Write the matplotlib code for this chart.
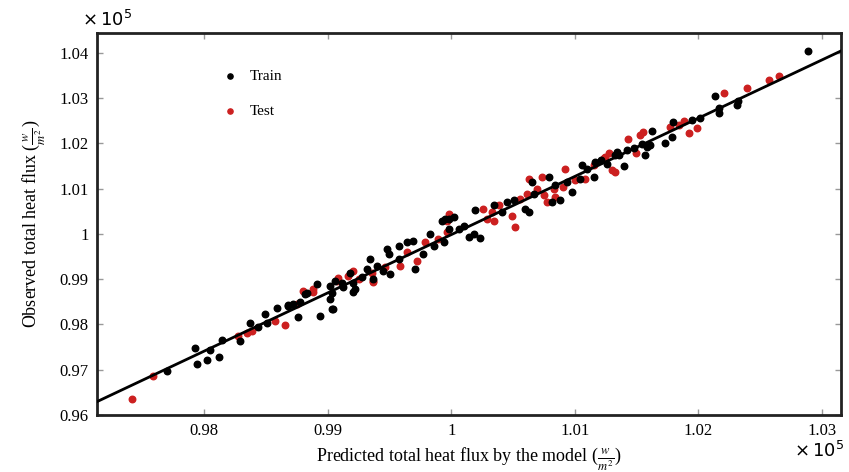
import matplotlib.pyplot as plt
from matplotlib.ticker import FuncFormatter

plt.rcParams['font.family'] = ['Liberation Serif', 'DejaVu Serif']
plt.rcParams['mathtext.fontset'] = 'stix'

# values in units of 1e5 W/m^2
train_pred = [0.97698, 0.97927, 0.97946, 0.98022, 0.98049, 0.98124, 0.98143, 0.98292,
              0.98372, 0.98440, 0.98494, 0.98508, 0.98589, 0.98683, 0.98761, 0.98939,
              0.99045, 0.98832, 0.99020, 0.99207, 0.99126, 0.98721, 0.98777, 0.98680,
              0.98818, 0.98912, 0.99034, 0.99034, 0.99061, 0.99115, 0.99182, 0.99209,
              0.99223, 0.99277, 0.99318, 0.99345, 0.99371, 0.99398, 0.99452, 0.99479,
              0.99493, 0.99506, 0.99574, 0.99574, 0.99641, 0.99695, 0.99709, 0.99776,
              0.99830, 0.99857, 0.99925, 0.99938, 0.99979, 0.99020, 0.99951, 1.00019,
              0.99979, 1.00060, 1.00100, 1.00141, 1.00181, 1.00235, 1.00194, 1.00343,
              1.00410, 1.00451, 1.00505, 1.00600, 1.00627, 1.00667, 1.00654, 1.00789,
              1.00815, 1.00883, 1.00842, 1.00977, 1.00936, 1.01045, 1.01058, 1.01099,
              1.01152, 1.01166, 1.01260, 1.01328, 1.01341, 1.01210, 1.01355, 1.01395,
              1.01423, 1.01476, 1.01544, 1.01571, 1.01585, 1.01611, 1.01625, 1.01733,
              1.01787, 1.01795, 1.01949, 1.02016, 1.02165, 1.02165, 1.02138, 1.02313,
              1.02318, 1.02886]
train_obs = [0.96963, 0.97489, 0.97133, 0.97222, 0.97444, 0.97282, 0.97651, 0.97630,
             0.98037, 0.97948, 0.98222, 0.98037, 0.98370, 0.98407, 0.98156, 0.98185,
             0.98333, 0.98704, 0.98852, 0.98711, 0.98822, 0.98444, 0.98489, 0.98422,
             0.98667, 0.98889, 0.98704, 0.98333, 0.98963, 0.98926, 0.99133, 0.98926,
             0.98793, 0.99059, 0.99222, 0.99444, 0.99000, 0.99296, 0.99185, 0.99667,
             0.99556, 0.99111, 0.99444, 0.99741, 0.99815, 0.99852, 0.99222, 0.99556,
             1.00000, 0.99741, 1.00296, 0.99815, 1.00333, 0.98556, 1.00333, 1.00370,
             1.00111, 1.00111, 1.00185, 0.99926, 1.00000, 0.99904, 1.00519, 1.00630,
             1.00481, 1.00704, 1.00741, 1.00556, 1.00481, 1.00889, 1.01148, 1.01259,
             1.00704, 1.00741, 1.01074, 1.00926, 1.01148, 1.01222, 1.01519, 1.01444,
             1.01259, 1.01593, 1.01556, 1.01741, 1.01815, 1.01630, 1.01741, 1.01496,
             1.01852, 1.01889, 1.01978, 1.01741, 1.01926, 1.01963, 1.02274, 1.02000,
             1.02148, 1.02467, 1.02519, 1.02556, 1.02667, 1.02778, 1.03037, 1.02852,
             1.02941, 1.04052]

test_pred = [0.97415, 0.97589, 0.98278, 0.98346, 0.98386, 0.98575, 0.98656, 0.98884,
             0.99075, 0.99368, 0.98751, 0.98804, 0.98885, 0.99088, 0.99169, 0.99209,
             0.99250, 0.99358, 0.99371, 0.99466, 0.99587, 0.99641, 0.99722, 0.99790,
             0.99897, 0.99965, 0.99979, 0.99966, 1.00261, 1.00289, 1.00343, 1.00329,
             1.00383, 1.00491, 1.00518, 1.00559, 1.00613, 1.00694, 1.00627, 1.00735,
             1.00748, 1.00775, 1.00842, 1.00829, 1.00909, 1.00923, 1.01004, 1.01085,
             1.01152, 1.01233, 1.01301, 1.01274, 1.01247, 1.01328, 1.01428, 1.01498,
             1.01525, 1.01552, 1.01773, 1.01841, 1.01881, 1.01922, 1.01990, 1.02211,
             1.02394, 1.02570, 1.02650]
test_obs = [0.96356, 0.96867, 0.97741, 0.97815, 0.97852, 0.98074, 0.97978, 0.98711,
            0.98963, 0.98933, 0.98444, 0.98741, 0.98778, 0.99037, 0.99074, 0.99185,
            0.99000, 0.99148, 0.98963, 0.99259, 0.99296, 0.99593, 0.99407, 0.99815,
            0.99889, 1.00037, 1.00444, 1.00296, 1.00556, 1.00333, 1.00296, 1.00481,
            1.00630, 1.00407, 1.00148, 1.00778, 1.00889, 1.01000, 1.01222, 1.01259,
            1.00852, 1.00704, 1.00815, 1.01000, 1.01037, 1.01444, 1.01185, 1.01222,
            1.01519, 1.01667, 1.01407, 1.01778, 1.01704, 1.01370, 1.02096, 1.01793,
            1.02185, 1.02259, 1.02370, 1.02407, 1.02496, 1.02222, 1.02333, 1.03111,
            1.03222, 1.03407, 1.03481]

fit_x = [0.9713, 1.0316]
fit_y = [0.9629, 1.0405]

xticks = [0.98, 0.99, 1.00, 1.01, 1.02, 1.03]
yticks = [0.96, 0.97, 0.98, 0.99, 1.00, 1.01, 1.02, 1.03, 1.04]

fig = plt.figure(figsize=(8.49, 4.72), dpi=100)
ax = fig.add_axes([0.1143, 0.1208, 0.8763, 0.8093])

ax.scatter(train_pred, train_obs, s=22, color='black', label='Train', zorder=3)
ax.scatter(test_pred, test_obs, s=22, color='#cc2020', label='Test', zorder=2)
ax.plot(fit_x, fit_y, color='black', linewidth=2, zorder=4)

ax.set_xlim(0.97134, 1.03155)
ax.set_ylim(0.9600, 1.0444)
ax.set_xticks(xticks)
ax.set_yticks(yticks)
fmt = FuncFormatter(lambda v, p: '%g' % round(v, 2))
ax.xaxis.set_major_formatter(fmt)
ax.yaxis.set_major_formatter(fmt)
ax.tick_params(direction='in', length=4, width=1, color='#999999', labelsize=12,
               top=True, right=True, pad=6)
for sp in ax.spines.values():
    sp.set_linewidth(2)
    sp.set_color('#222222')

ax.set_xlabel(r'Predicted total heat flux by the model ($\frac{w}{m^2}$)', fontsize=13, labelpad=4)
ax.set_ylabel(r'Observed total heat flux ($\frac{w}{m^2}$)', fontsize=13, labelpad=8)

fig.text(0.097, 0.958, r'$\times\,10^5$', fontsize=13, va='center',
         math_fontfamily='dejavusans')
fig.text(0.994, 0.045, r'$\times\,10^5$', fontsize=13, va='center', ha='right',
         math_fontfamily='dejavusans')

ax.legend(loc='upper left', bbox_to_anchor=(0.14, 0.94), frameon=False, fontsize=11,
          labelspacing=1.4, handletextpad=0.3, markerscale=0.8)

fig.savefig('out.png', dpi=100)
